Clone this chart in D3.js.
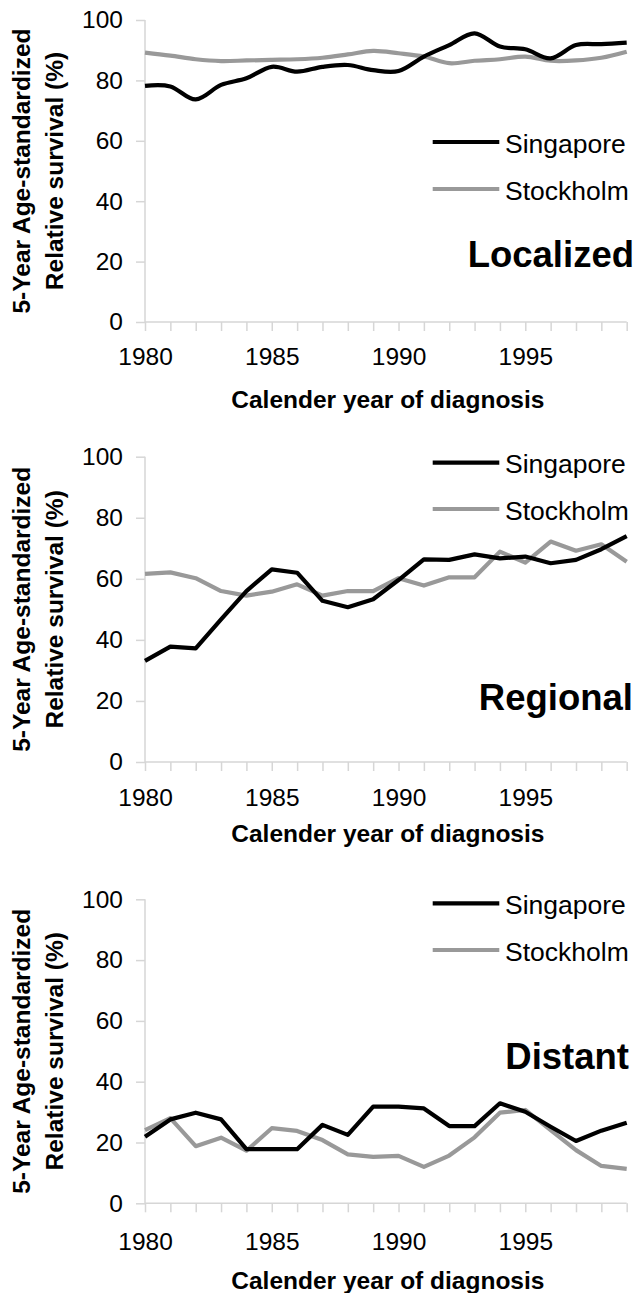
<!DOCTYPE html>
<html>
<head>
<meta charset="utf-8">
<script src="https://cdn.jsdelivr.net/npm/d3@7"></script>
<style>
  html, body { margin: 0; padding: 0; background: #fff; }
  svg { display: block; }
  text { font-family: "Liberation Sans", Arial, Helvetica, sans-serif; fill: #000; }
</style>
</head>
<body>
<svg id="chart" width="638" height="1293"></svg>
<script>
// ---- data ----
const years = [1980, 1981, 1982, 1983, 1984, 1985, 1986, 1987, 1988, 1989,
               1990, 1991, 1992, 1993, 1994, 1995, 1996, 1997, 1998, 1999];
const xTickLabels = [1980, 1985, 1990, 1995];
const yTickLabels = [0, 20, 40, 60, 80, 100];
const seriesNames = ["Singapore", "Stockholm"];
const panelNames = ["Localized", "Regional", "Distant"];

const localizedSingapore = [78.2, 78.0, 73.7, 78.5, 80.7, 84.5, 82.9, 84.5, 85.1, 83.4,
                            83.1, 87.9, 91.7, 95.6, 91.2, 90.3, 87.3, 91.7, 92.0, 92.5];
const localizedStockholm = [89.2, 88.2, 87.0, 86.4, 86.6, 86.8, 87.0, 87.5, 88.6, 89.8,
                            89.0, 87.9, 85.7, 86.5, 87.0, 87.9, 86.5, 86.6, 87.5, 89.5];
const regionalSingapore  = [33.1, 37.8, 37.2, 46.7, 56.0, 63.1, 62.0, 52.8, 50.7, 53.3,
                            59.6, 66.4, 66.2, 68.0, 66.7, 67.3, 65.1, 66.2, 69.7, 74.0];
const regionalStockholm  = [61.6, 62.1, 60.2, 56.0, 54.5, 55.8, 58.2, 54.5, 56.0, 56.0,
                            60.2, 57.8, 60.5, 60.5, 68.9, 65.3, 72.2, 69.2, 71.3, 65.6];
const distantSingapore   = [21.9, 27.6, 29.8, 27.6, 17.8, 17.8, 17.8, 25.8, 22.5, 31.8,
                            31.8, 31.2, 25.4, 25.4, 32.9, 30.1, 25.2, 20.5, 23.9, 26.5];
const distantStockholm   = [24.1, 28.0, 18.8, 21.6, 17.3, 24.7, 23.8, 20.8, 16.1, 15.3,
                            15.6, 12.0, 15.7, 21.7, 29.8, 30.7, 24.1, 17.5, 12.3, 11.3];

const xTitle = "Calender year of diagnosis";
const yTitle1 = "5-Year Age-standardized";
const yTitle2 = "Relative survival (%)";

// ---- layout ----
const panels = [
  { name: panelNames[0], sing: localizedSingapore, stock: localizedStockholm, smooth: true,
    top: 20, bottom: 322, tickBase: 365, titleBase: 408, legY: [142, 189], labelBase: 267, labelRight: 634 },
  { name: panelNames[1], sing: regionalSingapore, stock: regionalStockholm, smooth: false,
    top: 456.7, bottom: 762, tickBase: 806, titleBase: 842, legY: [462.7, 509], labelBase: 710, labelRight: 633 },
  { name: panelNames[2], sing: distantSingapore, stock: distantStockholm, smooth: false,
    top: 899.3, bottom: 1203.3, tickBase: 1250, titleBase: 1289, legY: [903.3, 950], labelBase: 1069, labelRight: 629 }
];
const xLeft = 145, xRight = 626.7;
const axisColor = "#d6d6d6";
const colors = { Singapore: "#000000", Stockholm: "#999999" };

const svg = d3.select("#chart");
const x = d3.scalePoint().domain(years).range([xLeft, xRight]);

panels.forEach(p => {
  const g = svg.append("g");
  const y = d3.scaleLinear().domain([0, 100]).range([p.bottom, p.top]);

  // y axis
  const yAxis = d3.axisLeft(y).tickValues(yTickLabels).tickSize(9).tickPadding(13).tickFormat(d3.format("d"));
  const ya = g.append("g").attr("transform", `translate(${xLeft},0)`).call(yAxis);
  ya.select(".domain").attr("stroke", axisColor).attr("stroke-width", 1.5).attr("d", `M0,${p.top}V${p.bottom}`);
  ya.selectAll(".tick line").attr("stroke", axisColor).attr("stroke-width", 1.5);
  ya.selectAll(".tick text").style("font-size", "24.5px").style("font-family", '"Liberation Sans", Arial, sans-serif').attr("fill", "#000");

  // x axis
  const xAxis = d3.axisBottom(x).tickSize(9).tickFormat(d => xTickLabels.includes(d) ? String(d) : "");
  const xa = g.append("g").attr("transform", `translate(0,${p.bottom})`).call(xAxis);
  xa.select(".domain").attr("stroke", axisColor).attr("stroke-width", 1.5).attr("d", `M${xLeft},0H${xRight}`);
  xa.selectAll(".tick line").attr("stroke", axisColor).attr("stroke-width", 1.5);
  xa.selectAll(".tick text").style("font-size", "24.5px").style("font-family", '"Liberation Sans", Arial, sans-serif')
    .attr("fill", "#000").attr("dy", null).attr("y", p.tickBase - p.bottom);

  // lines
  const line = d3.line()
    .x((d, i) => x(years[i]))
    .y(d => y(d))
    .curve(p.smooth ? d3.curveCardinal.tension(0) : d3.curveLinear);
  g.append("path").attr("d", line(p.stock)).attr("fill", "none")
    .attr("stroke", colors.Stockholm).attr("stroke-width", 4.2).attr("stroke-linejoin", "round");
  g.append("path").attr("d", line(p.sing)).attr("fill", "none")
    .attr("stroke", colors.Singapore).attr("stroke-width", 4.2).attr("stroke-linejoin", "round");

  // legend
  seriesNames.forEach((s, i) => {
    g.append("line").attr("x1", 432.7).attr("x2", 499.3).attr("y1", p.legY[i]).attr("y2", p.legY[i])
      .attr("stroke", colors[s]).attr("stroke-width", 4.2);
    g.append("text").attr("x", 505).attr("y", p.legY[i] + 10.5).style("font-size", "26.5px").text(s);
  });

  // panel label
  g.append("text").attr("x", p.labelRight).attr("y", p.labelBase).attr("text-anchor", "end")
    .style("font-size", "36.5px").style("font-weight", "bold").text(p.name);

  // x title
  g.append("text").attr("x", (xLeft + xRight) / 2 + 2).attr("y", p.titleBase).attr("text-anchor", "middle")
    .style("font-size", "24.5px").style("font-weight", "bold").text(xTitle);

  // y title
  const cy = (p.top + p.bottom) / 2;
  g.append("text").attr("transform", `translate(30,${cy}) rotate(-90)`).attr("text-anchor", "middle")
    .style("font-size", "24.5px").style("font-weight", "bold").text(yTitle1);
  g.append("text").attr("transform", `translate(63,${cy}) rotate(-90)`).attr("text-anchor", "middle")
    .style("font-size", "24.5px").style("font-weight", "bold").text(yTitle2);
});
</script>
</body>
</html>
